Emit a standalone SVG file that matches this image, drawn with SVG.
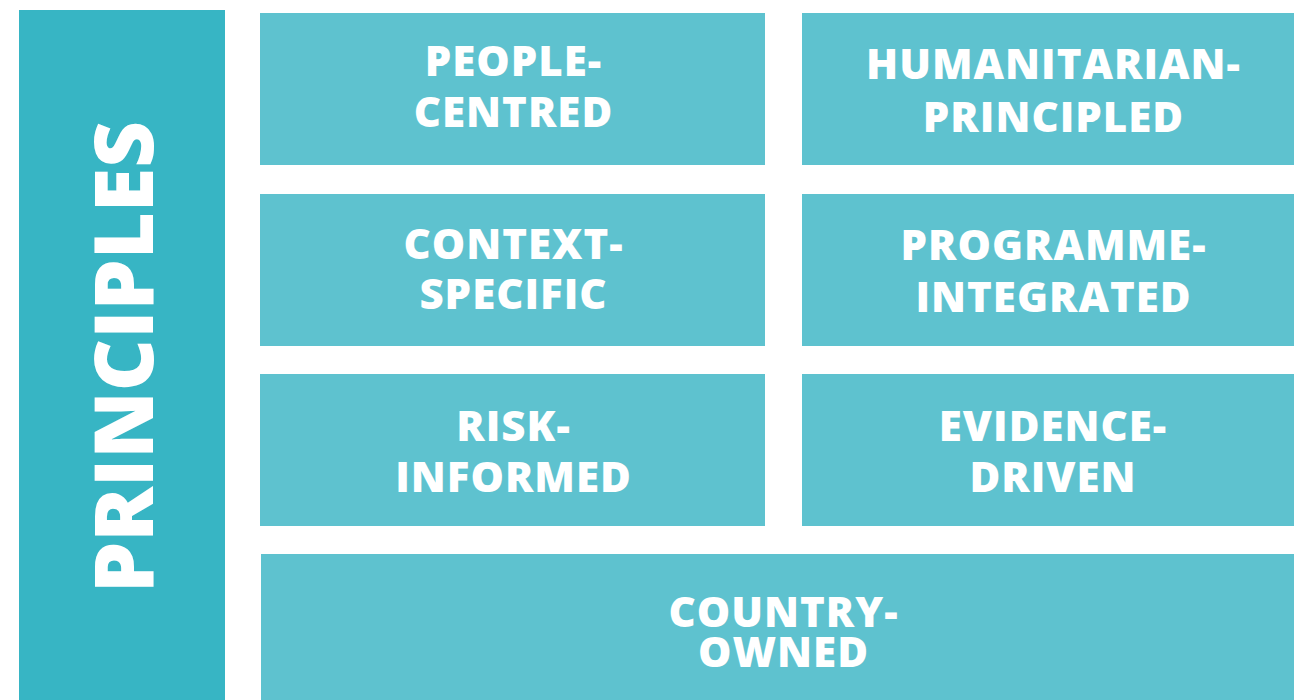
<svg xmlns="http://www.w3.org/2000/svg" width="1294" height="700" viewBox="0 0 1294 700">
<style>
.box{fill:#5EC2CF}
.bar{fill:#37B5C4}
.t{font-family:"Open Sans","Liberation Sans",sans-serif;font-weight:800;font-size:42px;letter-spacing:1px;fill:#FFFFFF;text-anchor:middle}
.big{font-family:"Open Sans","Liberation Sans",sans-serif;font-weight:800;font-size:81px;fill:#FFFFFF;text-anchor:middle}
</style>
<rect width="1294" height="700" fill="#FFFFFF"/>
<g id="principles">
<rect class="bar" x="19" y="10" width="206" height="690"/>
<text class="big" transform="translate(153,357) rotate(-90)">PRINCIPLES</text>
</g>
<g id="people-centred">
<rect class="box" x="260" y="13" width="505" height="152"/>
<text class="t" x="513.5" y="75.5">PEOPLE-</text>
<text class="t" x="513.5" y="127">CENTRED</text>
</g>
<g id="humanitarian-principled">
<rect class="box" x="802" y="13" width="492" height="152"/>
<text class="t" x="1053.5" y="79">HUMANITARIAN-</text>
<text class="t" x="1053.5" y="131.5">PRINCIPLED</text>
</g>
<g id="context-specific">
<rect class="box" x="260" y="194" width="505" height="152"/>
<text class="t" x="513.5" y="258.5">CONTEXT-</text>
<text class="t" x="513.5" y="309">SPECIFIC</text>
</g>
<g id="programme-integrated">
<rect class="box" x="802" y="194" width="492" height="152"/>
<text class="t" x="1053.5" y="260">PROGRAMME-</text>
<text class="t" x="1053.5" y="312">INTEGRATED</text>
</g>
<g id="risk-informed">
<rect class="box" x="260" y="374" width="505" height="152"/>
<text class="t" x="513.5" y="441">RISK-</text>
<text class="t" x="513.5" y="492">INFORMED</text>
</g>
<g id="evidence-driven">
<rect class="box" x="802" y="374" width="492" height="152"/>
<text class="t" x="1053" y="441">EVIDENCE-</text>
<text class="t" x="1053" y="492">DRIVEN</text>
</g>
<g id="country-owned">
<rect class="box" x="261" y="554" width="1033" height="146"/>
<text class="t" x="783.5" y="627">COUNTRY-</text>
<text class="t" x="783.5" y="667">OWNED</text>
</g>
<g id="connectors"></g>
</svg>
